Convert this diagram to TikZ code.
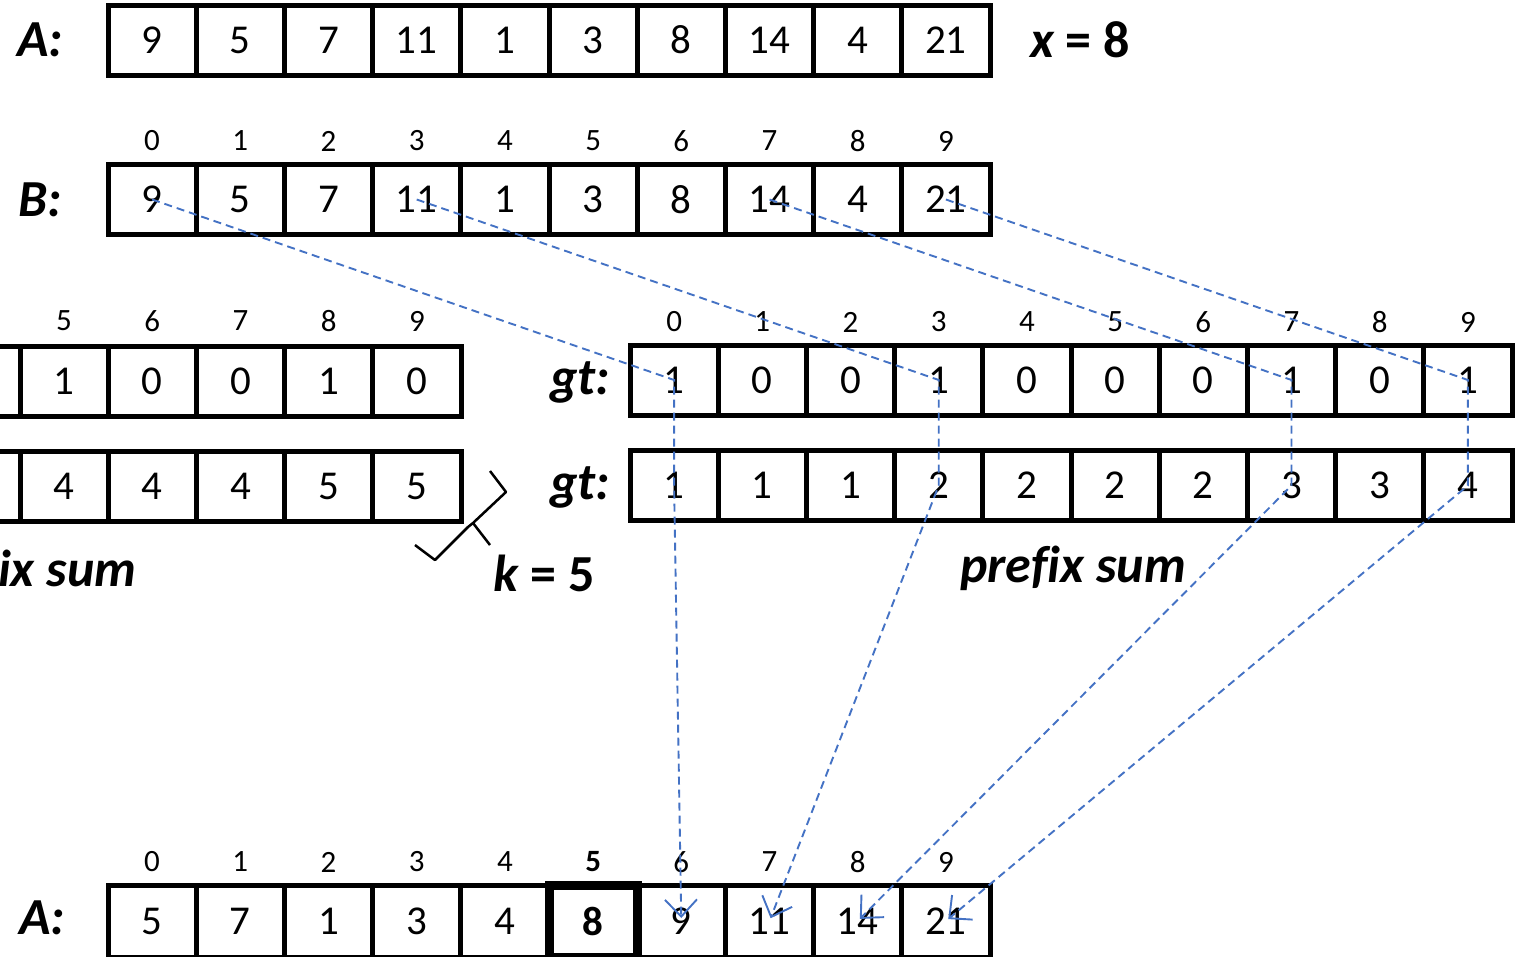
\documentclass[tikz,border=0pt]{standalone}
\usepackage{fontspec}
\setmainfont{Carlito}[Ligatures=NoCommon]
\usetikzlibrary{arrows.meta}
\definecolor{connblue}{HTML}{4472C4}
\begin{document}
\begin{tikzpicture}[x=1pt,y=-1pt,
  cell/.style={draw, line width=5pt, minimum width=88.2pt, minimum height=70pt, inner sep=0pt, font=\fontsize{41}{48}\selectfont},
  thickcell/.style={cell, line width=9pt, font=\fontsize{41}{48}\selectfont\bfseries},
  idx/.style={inner sep=0pt, font=\fontsize{31}{36}\selectfont},
  lbl/.style={inner sep=0pt, font=\fontsize{52}{60}\selectfont\bfseries\itshape},
  conn/.style={draw=connblue, line width=1.9pt, dash pattern=on 8pt off 5pt},
  connarrow/.style={conn, shorten >=3pt, -{Straight Barb[length=17pt,width=32pt,line width=1.9pt]}}
]
\useasboundingbox (0,0) rectangle (1522,956);
\clip (0,0) rectangle (1522,956);

% top A
\node[lbl] (lA1) at (40,40) {A:};
\foreach \v [count=\i from 0] in {9,5,7,11,1,3,8,14,4,21}
  \node[cell] (a\i) at ({152.1+88.2*\i},40) {\v};
\node[lbl, anchor=west] (xeq) at (1030,40) {x\upshape{} = 8};

% B
\node[lbl] (lB) at (40,200) {B:};
\foreach \v [count=\i from 0] in {9,5,7,11,1,3,8,14,4,21}{
  \node[cell] (b\i) at ({152.1+88.2*\i},199.5) {\v};
  \node[idx] (bi\i) at ({152.1+88.2*\i},141) {\i};
}

% left partial arrays
\node[cell] (lg4) at (-24.1,381) {};
\node[cell] (lp4) at (-24.1,486) {};
\foreach \v/\w [count=\i from 5] in {1/4,0/4,0/4,1/5,0/5}{
  \node[cell] (lg\i) at ({64.1+88.2*(\i-5)},381) {\v};
  \node[cell] (lp\i) at ({64.1+88.2*(\i-5)},486) {\w};
  \node[idx] (li\i) at ({64.1+88.2*(\i-5)},321) {\i};
}
\node[lbl, anchor=west] (lsum) at (-2,568) {ix sum};

% brace and k
\draw[line width=2.5pt, line join=round] (490,471) -- (506,492) -- (473,523) -- (490,545);
\draw[line width=2.5pt, line join=round] (473,523) -- (468,527) -- (435,560) -- (415,545);
\node[lbl] (keq) at (544,573) {k\upshape{} = 5};

% right arrays
\node[lbl] (lgt1) at (580,382) {gt:};
\node[lbl] (lgt2) at (580,487) {gt:};
\foreach \v/\w [count=\i from 0] in {1/1,0/1,0/1,1/2,0/2,0/2,0/2,1/3,0/3,1/4}{
  \node[cell] (g\i) at ({674.1+88.2*\i},380) {\v};
  \node[cell] (p\i) at ({674.1+88.2*\i},485.5) {\w};
  \node[idx] (gi\i) at ({674.1+88.2*\i},322) {\i};
}
\node[lbl] (psum) at (1073,568) {prefix sum};

% bottom A
\node[lbl] (lA2) at (42,918) {A:};
\foreach \v [count=\i from 0] in {5,7,1,3,4,8,9,11,14,21}{
  \ifnum\i=5\else
  \node[cell, minimum height=72pt] (f\i) at ({152.1+88.2*\i},921) {\v};
  \node[idx] (fi\i) at ({152.1+88.2*\i},862) {\i};
  \fi
}
\node[thickcell, minimum height=72pt] (f5) at ({152.1+88.2*5},921) {8};
\node[idx, font=\fontsize{31}{36}\selectfont\bfseries] (fi5) at ({152.1+88.2*5},862) {5};

% connectors
\draw[connarrow] (b0.center) -- (g0.center) -- (p0.center) -- (f6.center);
\draw[connarrow] (b3.center) -- (g3.center) -- (p3.center) -- (f7.center);
\draw[connarrow] (b7.center) -- (g7.center) -- (p7.center) -- (f8.center);
\draw[connarrow] (b9.center) -- (g9.center) -- (p9.center) -- (f9.center);
\end{tikzpicture}
\end{document}
